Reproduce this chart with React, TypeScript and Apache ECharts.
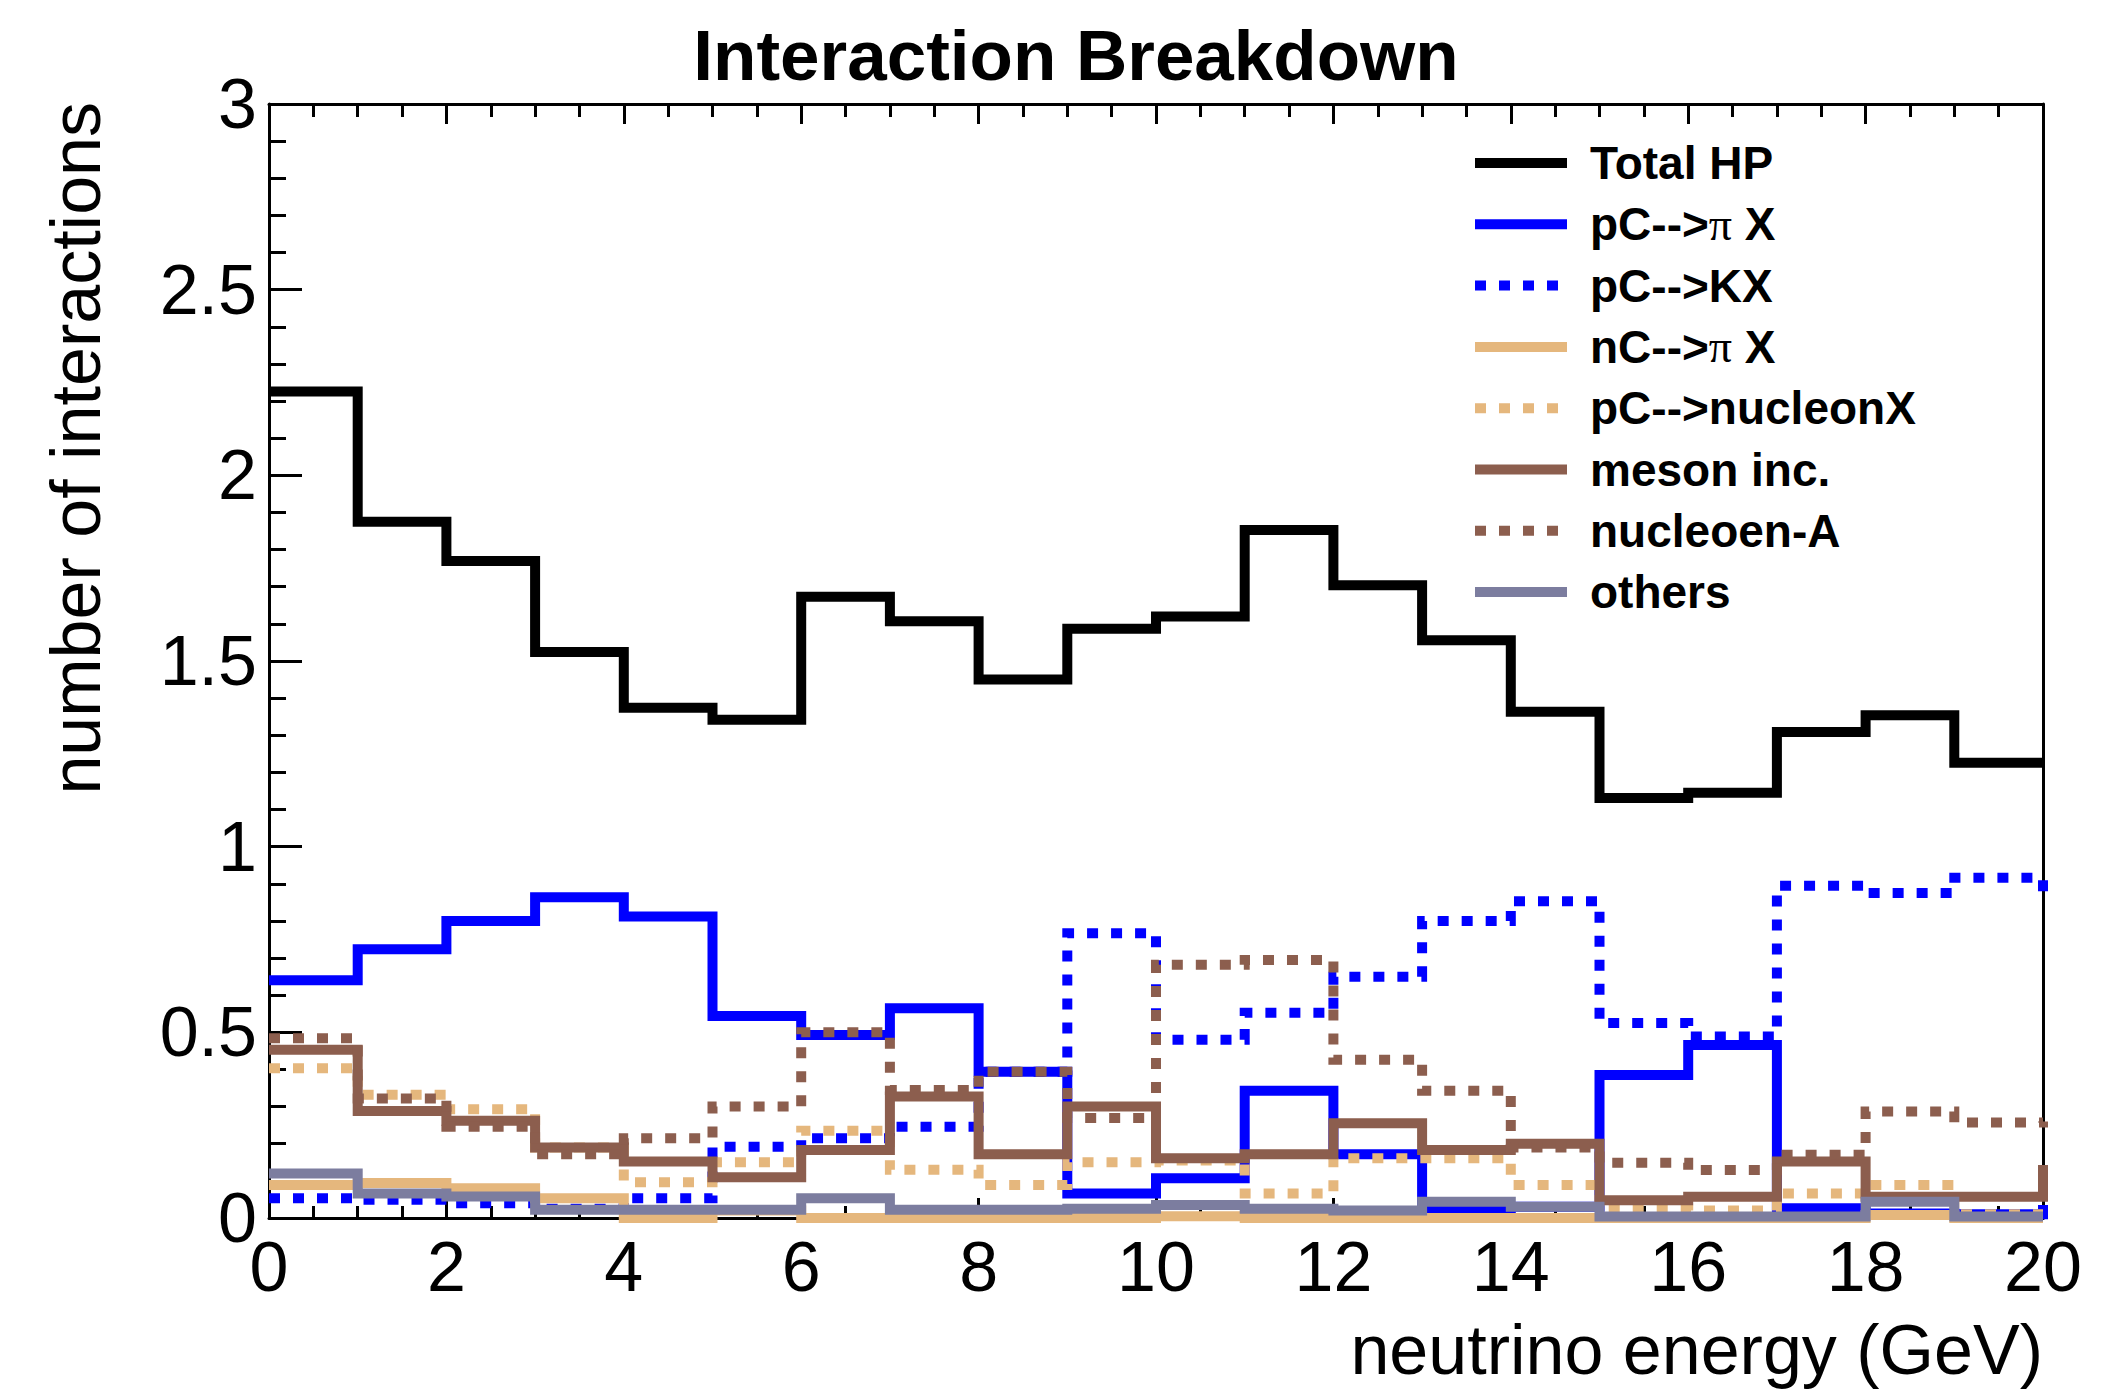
import React, { useEffect, useRef } from "react";
import * as echarts from "echarts";

// ---- data (bin edges 0..20 GeV, 20 bins of 1 GeV) ----
const binEdges = [0, 1, 2, 3, 4, 5, 6, 7, 8, 9, 10, 11, 12, 13, 14, 15, 16, 17, 18, 19, 20];

const seriesNames = [
  "Total HP",
  "pC-->π X",
  "pC-->KX",
  "nC-->π X",
  "pC-->nucleonX",
  "meson inc.",
  "nucleoen-A",
  "others",
];

const totalHP = [2.226, 1.875, 1.769, 1.524, 1.374, 1.342, 1.673, 1.607, 1.45, 1.587, 1.62, 1.853, 1.704, 1.556, 1.363, 1.131, 1.145, 1.309, 1.354, 1.226];
const pCtoPiX = [0.64, 0.724, 0.8, 0.864, 0.812, 0.544, 0.493, 0.565, 0.394, 0.066, 0.107, 0.343, 0.172, 0.026, 0.03, 0.385, 0.466, 0.026, 0.012, 0.01];
const pCtoKX = [0.053, 0.049, 0.04, 0.025, 0.053, 0.192, 0.215, 0.246, 0.394, 0.767, 0.48, 0.553, 0.65, 0.8, 0.853, 0.525, 0.489, 0.895, 0.875, 0.916];
const nCtoPiX = [0.089, 0.094, 0.08, 0.053, 0.0, 0.02, 0.0, 0.0, 0.0, 0.0, 0.005, 0.0, 0.0, 0.0, 0.0, 0.0, 0.0, 0.0, 0.008, 0.0];
const pCtoNucleonX = [0.403, 0.332, 0.293, 0.19, 0.096, 0.15, 0.235, 0.13, 0.089, 0.15, 0.155, 0.066, 0.161, 0.161, 0.089, 0.022, 0.02, 0.066, 0.089, 0.01];
const mesonInc = [0.453, 0.288, 0.262, 0.19, 0.152, 0.11, 0.183, 0.327, 0.172, 0.3, 0.161, 0.172, 0.255, 0.183, 0.2, 0.048, 0.057, 0.152, 0.057, 0.057];
const nucleonA = [0.484, 0.322, 0.246, 0.172, 0.215, 0.3, 0.5, 0.345, 0.394, 0.269, 0.682, 0.695, 0.426, 0.343, 0.19, 0.149, 0.129, 0.17, 0.287, 0.257];
const others = [0.12, 0.066, 0.058, 0.022, 0.022, 0.022, 0.053, 0.022, 0.022, 0.025, 0.035, 0.025, 0.02, 0.044, 0.03, 0.004, 0.004, 0.004, 0.044, 0.004];

// level reached by each histogram's edge line at x = 20 (overflow bin)
const overflowLevels = [1.226, 0.035, 0.86, 0.0, 0.01, 0.143, 0.26, 0.004];

const seriesValues = [totalHP, pCtoPiX, pCtoKX, nCtoPiX, pCtoNucleonX, mesonInc, nucleonA, others];
const seriesColors = ["#000000", "#0000ff", "#0000ff", "#e5b77d", "#e5b77d", "#8c5e4e", "#8c5e4e", "#7c7d9f"];
const seriesDotted = [false, false, true, false, true, false, true, false];

const FONT = "'Liberation Sans', Arial, Helvetica, sans-serif";

function histData(values: number[], tail: number) {
  const pts: number[][] = values.map((v, i) => [binEdges[i], v]);
  pts.push([binEdges[values.length], tail]);
  return pts;
}

export default function App() {
  const ref = useRef<HTMLDivElement>(null);

  useEffect(() => {
    if (!ref.current) return;
    const chart = echarts.init(ref.current, undefined, { renderer: "svg" });

    const series = seriesNames.map((name, i) => ({
      name,
      type: "line",
      step: "end",
      symbol: "none",
      clip: false,
      data: histData(seriesValues[i], overflowLevels[i]),
      lineStyle: {
        color: seriesColors[i],
        width: 10,
        type: seriesDotted[i] ? [11, 13] : "solid",
        cap: "butt",
        join: "miter",
      },
      itemStyle: { color: seriesColors[i] },
      emphasis: { disabled: true },
      z: 2 + i * 0.01,
    }));

    const axisLineStyle = { color: "#000", width: 3 };

    chart.setOption({
      animation: false,
      backgroundColor: "#ffffff",
      graphic: [
        {
          type: "text",
          x: 1076,
          y: 55,
          style: {
            text: "Interaction Breakdown",
            fontSize: 71,
            fontWeight: "bold",
            fontFamily: FONT,
            fill: "#000",
            align: "center",
            verticalAlign: "middle",
          },
        },
        {
          type: "text",
          x: 76,
          y: 102,
          rotation: Math.PI / 2,
          style: {
            text: "number of interactions",
            fontSize: 70,
            fontFamily: FONT,
            fill: "#000",
            align: "right",
            verticalAlign: "middle",
          },
        },
        {
          type: "text",
          x: 2043,
          y: 1350,
          style: {
            text: "neutrino energy (GeV)",
            fontSize: 70,
            lineHeight: 70,
            fontFamily: FONT,
            fill: "#000",
            align: "right",
            verticalAlign: "middle",
          },
        },
      ],
      legend: {
        orient: "vertical",
        left: 1470,
        top: 140,
        padding: 0,
        itemWidth: 92,
        itemHeight: 20,
        itemGap: 15.3,
        selectedMode: false,
        data: seriesNames,
        formatter: (name: string) => name.replace("π", "{pi|π}"),
        textStyle: {
          fontSize: 46,
          fontWeight: "bold",
          fontFamily: FONT,
          color: "#000",
          lineHeight: 46,
          padding: [0, 0, 0, 18],
          rich: {
            pi: {
              fontSize: 46,
              fontWeight: "normal",
              fontFamily: "'Liberation Serif', 'DejaVu Serif', serif",
              color: "#000",
              lineHeight: 46,
            },
          },
        },
        itemStyle: { opacity: 0 },
        lineStyle: { width: 10, cap: "butt" },
      },
      grid: {
        left: 269,
        right: 84,
        top: 104,
        bottom: 174,
        containLabel: false,
        outerBoundsMode: "none",
      },
      xAxis: [
        {
          type: "value",
          min: 0,
          max: 20,
          interval: 2,
          position: "bottom",
          axisLine: { show: true, onZero: false, lineStyle: axisLineStyle },
          axisTick: { show: true, inside: true, length: 20, lineStyle: { color: "#000", width: 3 } },
          minorTick: { show: true, splitNumber: 4, length: 12, lineStyle: { color: "#000", width: 3 } },
          axisLabel: { fontSize: 70, fontFamily: FONT, color: "#000", margin: 14 },
          splitLine: { show: false },
        },
        {
          type: "value",
          min: 0,
          max: 20,
          interval: 2,
          position: "top",
          axisLine: { show: true, onZero: false, lineStyle: axisLineStyle },
          axisTick: { show: true, inside: true, length: 20, lineStyle: { color: "#000", width: 3 } },
          minorTick: { show: true, splitNumber: 4, length: 13, lineStyle: { color: "#000", width: 3 } },
          axisLabel: { show: false },
          splitLine: { show: false },
        },
      ],
      yAxis: [
        {
          type: "value",
          min: 0,
          max: 3,
          interval: 0.5,
          position: "left",
          axisLine: { show: true, onZero: false, lineStyle: axisLineStyle },
          axisTick: { show: true, inside: true, length: 33, lineStyle: { color: "#000", width: 3 } },
          minorTick: { show: true, splitNumber: 5, length: 17, lineStyle: { color: "#000", width: 3 } },
          axisLabel: { fontSize: 70, fontFamily: FONT, color: "#000", margin: 12 },
          splitLine: { show: false },
        },
        {
          type: "value",
          min: 0,
          max: 3,
          interval: 0.5,
          position: "right",
          axisLine: { show: true, onZero: false, lineStyle: axisLineStyle },
          axisTick: { show: false },
          axisLabel: { show: false },
          splitLine: { show: false },
        },
      ],
      series,
    });

    return () => {
      chart.dispose();
    };
  }, []);

  return (
    <div
      ref={ref}
      style={{
        position: "fixed",
        left: 0,
        top: 0,
        width: "2127px",
        height: "1392px",
        background: "#ffffff",
      }}
    />
  );
}
